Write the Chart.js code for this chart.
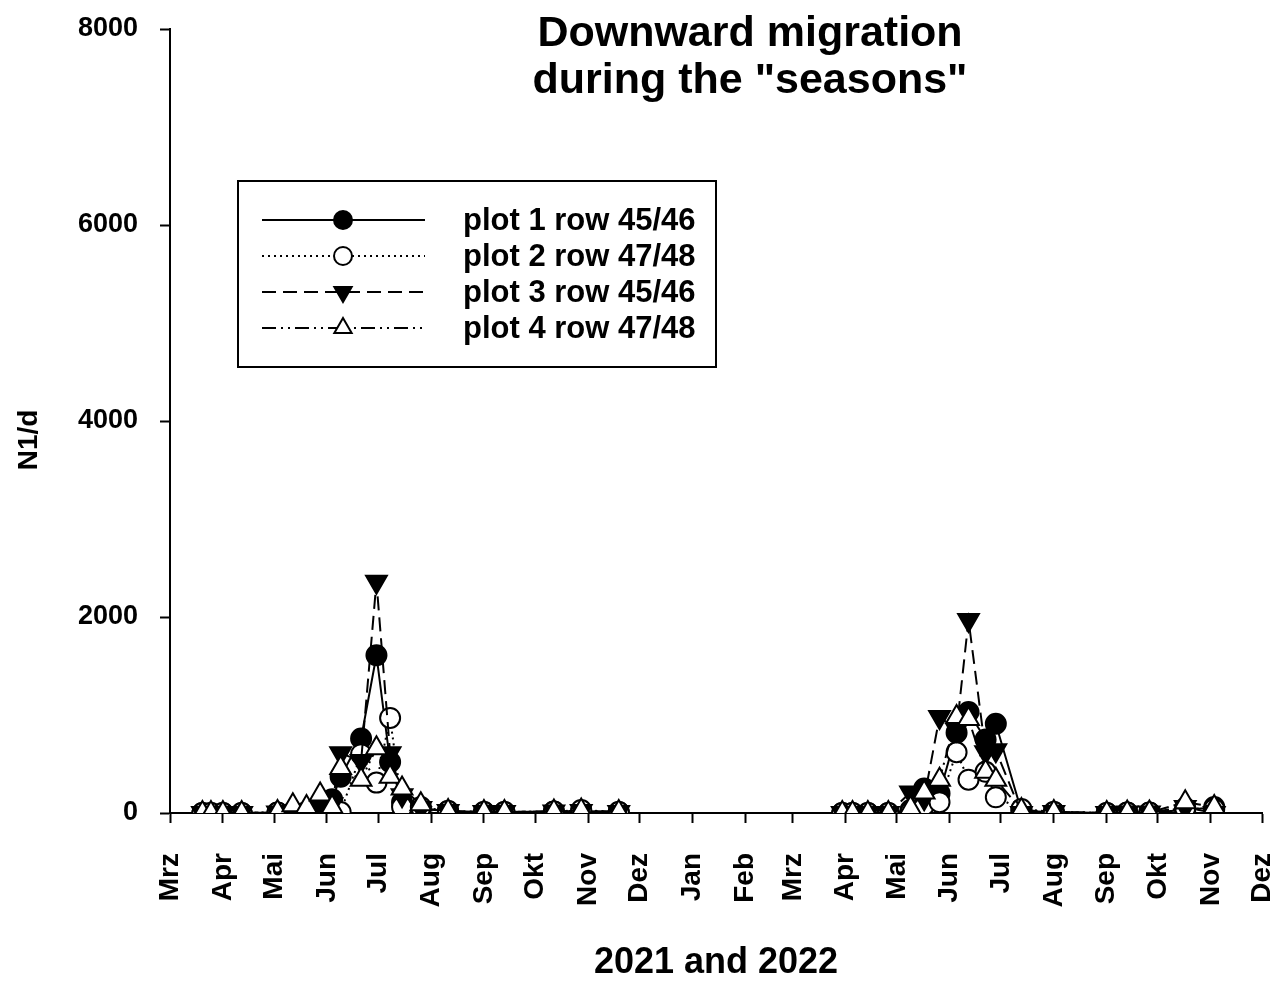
<!DOCTYPE html>
<html>
<head>
<meta charset="utf-8">
<title>Downward migration during the "seasons"</title>
<script src="https://cdn.jsdelivr.net/npm/chart.js@4.4.1/dist/chart.umd.min.js"></script>
<style>
  html, body { margin: 0; padding: 0; background: #fff; }
  #wrap { width: 1285px; height: 985px; }
</style>
</head>
<body>
<div id="wrap"><canvas id="migrationChart" width="1285" height="985"></canvas></div>
<script>
// sampling dates (2021 season, then 2022 season)
const sampleDates = [
    '2021-03-20', '2021-03-25', '2021-04-01', '2021-04-12', '2021-05-03', '2021-05-12',
    '2021-05-20', '2021-05-28', '2021-06-04', '2021-06-09', '2021-06-21', '2021-06-30',
    '2021-07-08', '2021-07-15', '2021-07-26', '2021-08-11', '2021-09-01', '2021-09-13',
    '2021-10-12', '2021-10-28', '2021-11-19',
    '2022-03-30', '2022-04-05', '2022-04-14', '2022-04-26', '2022-05-09', '2022-05-17',
    '2022-05-26', '2022-06-05', '2022-06-12', '2022-06-22', '2022-06-28', '2022-07-13',
    '2022-08-01', '2022-09-01', '2022-09-13', '2022-09-26', '2022-10-17', '2022-11-03'
];

// N1/d per plot
const plot1Values = [
    0, 0, 0, 0, 5, 10, 10, 40, 140, 370, 760, 1610, 520, 110, 40, 20, 10, 10, 15, 20, 10,
    0, 0, 0, 0, 30, 250, 200, 820, 1030, 750, 910, 20, 10, 0, 5, 5, 30, 60
];
const plot2Values = [
    0, 0, 0, 0, 5, 5, 10, 20, 30, 10, 600, 310, 970, 60, 60, 20, 10, 10, 15, 30, 10,
    0, 0, 0, 0, 10, 80, 110, 620, 340, 420, 160, 40, 10, 0, 5, 5, 50, 40
];
const plot3Values = [
    0, 0, 0, 0, 5, 10, 20, 50, 90, 610, 530, 2360, 610, 180, 50, 20, 10, 10, 15, 20, 10,
    0, 0, 0, 0, 210, 150, 980, 850, 1970, 620, 640, 0, 10, 0, 5, 5, 60, 0
];
const plot4Values = [
    0, 0, 0, 0, 10, 80, 60, 190, 60, 460, 340, 660, 370, 250, 90, 20, 10, 10, 15, 25, 10,
    0, 0, 0, 0, 50, 210, 340, 980, 960, 420, 340, 30, 10, 0, 5, 5, 110, 60
];

const seriesLabels = ['plot 1 row 45/46', 'plot 2 row 47/48', 'plot 3 row 45/46', 'plot 4 row 47/48'];
const monthNames = ['Jan', 'Feb', 'Mrz', 'Apr', 'Mai', 'Jun', 'Jul', 'Aug', 'Sep', 'Okt', 'Nov', 'Dez'];
const axisStart = '2021-03-01';
const axisEnd = '2022-12-01';
const yTicks = [0, 2000, 4000, 6000, 8000];

const FONT = '"Liberation Sans", Arial, sans-serif';

// days since the start of the axis
function dayOf(dateStr) {
    const p = dateStr.split('-').map(Number);
    const s = axisStart.split('-').map(Number);
    return (Date.UTC(p[0], p[1] - 1, p[2]) - Date.UTC(s[0], s[1] - 1, s[2])) / 86400000;
}

// one tick on the first of every month
const monthTicks = [];
(function() {
    let y = Number(axisStart.slice(0, 4));
    let m = Number(axisStart.slice(5, 7)) - 1;
    const endDay = dayOf(axisEnd);
    while (true) {
        const str = y + '-' + String(m + 1).padStart(2, '0') + '-01';
        const d = dayOf(str);
        if (d > endDay) break;
        monthTicks.push({ value: d, label: monthNames[m] });
        m++;
        if (m > 11) { m = 0; y++; }
    }
})();

// points, with a break between the two seasons
function toPoints(values) {
    const pts = [];
    for (let i = 0; i < sampleDates.length; i++) {
        const x = dayOf(sampleDates[i]);
        if (i > 0) {
            const prev = dayOf(sampleDates[i - 1]);
            if (x - prev > 60) pts.push({ x: (x + prev) / 2, y: null });
        }
        pts.push({ x: x, y: values[i] });
    }
    return pts;
}

const seriesStyles = [
    { values: plot1Values, dash: [], pointStyle: 'circle', radius: 10, rotation: 0, fill: '#000' },
    { values: plot2Values, dash: [2, 4], pointStyle: 'circle', radius: 10, rotation: 0, fill: '#fff' },
    { values: plot3Values, dash: [14, 7], pointStyle: 'triangle', radius: 12, rotation: 180, fill: '#000' },
    { values: plot4Values, dash: [14, 5, 2, 5, 2, 5], pointStyle: 'triangle', radius: 12, rotation: 0, fill: '#fff' }
];

const datasets = seriesStyles.map(function(s, i) {
    return {
        label: seriesLabels[i],
        data: toPoints(s.values),
        borderColor: '#000',
        borderWidth: 2,
        borderDash: s.dash,
        pointStyle: s.pointStyle,
        pointRadius: s.radius,
        pointRotation: s.rotation,
        pointBackgroundColor: s.fill,
        pointBorderColor: '#000',
        pointBorderWidth: 2,
        spanGaps: false,
        tension: 0,
        order: 4 - i
    };
});

// title above the plot (off-centre like the original) and the y axis title
const titlePlugin = {
    id: 'twoLineTitle',
    afterDraw: function(chart) {
        const ctx = chart.ctx;
        ctx.save();
        ctx.fillStyle = '#000';
        ctx.font = 'bold 43px ' + FONT;
        ctx.textAlign = 'center';
        ctx.textBaseline = 'middle';
        ctx.fillText('Downward migration', 750, 34);
        ctx.fillText('during the "seasons"', 750, 81);

        ctx.font = 'bold 28px ' + FONT;
        ctx.translate(29, 440);
        ctx.rotate(-Math.PI / 2);
        ctx.fillText('N1/d', 0, 0);
        ctx.restore();
    }
};

// boxed legend with line samples
const legendPlugin = {
    id: 'boxLegend',
    afterDraw: function(chart) {
        const ctx = chart.ctx;
        ctx.save();
        ctx.strokeStyle = '#000';
        ctx.lineWidth = 2;
        ctx.strokeRect(238, 181, 478, 186);
        seriesStyles.forEach(function(s, i) {
            const y = 220 + i * 36;
            ctx.setLineDash(s.dash);
            ctx.lineWidth = 2;
            ctx.beginPath();
            ctx.moveTo(262, y);
            ctx.lineTo(425, y);
            ctx.stroke();
            ctx.setLineDash([]);
            ctx.fillStyle = s.fill;
            ctx.strokeStyle = '#000';
            Chart.helpers.drawPoint(ctx, {
                pointStyle: s.pointStyle,
                radius: s.pointStyle === 'circle' ? 9 : 10,
                rotation: s.rotation,
                borderWidth: 2
            }, 343, y);
            ctx.fillStyle = '#000';
            ctx.font = 'bold 31px ' + FONT;
            ctx.textAlign = 'left';
            ctx.textBaseline = 'middle';
            ctx.fillText(seriesLabels[i], 463, y + 1);
        });
        ctx.restore();
    }
};

new Chart(document.getElementById('migrationChart'), {
    type: 'line',
    data: { datasets: datasets },
    options: {
        responsive: false,
        animation: false,
        devicePixelRatio: 1,
        layout: { padding: { top: 29, right: 23, left: 0, bottom: 0 } },
        plugins: {
            legend: { display: false },
            title: { display: false },
            tooltip: { enabled: false }
        },
        scales: {
            x: {
                type: 'linear',
                min: 0,
                max: dayOf(axisEnd),
                afterBuildTicks: function(scale) {
                    scale.ticks = monthTicks.map(function(t) { return { value: t.value }; });
                },
                afterFit: function(scale) {
                    scale.height = 172;
                    scale.paddingLeft = 0;
                    scale.paddingRight = 0;
                },
                ticks: {
                    autoSkip: false,
                    minRotation: 90,
                    maxRotation: 90,
                    padding: 30,
                    color: '#000',
                    font: { family: FONT, size: 28, weight: 'bold' },
                    callback: function(value) {
                        const t = monthTicks.find(function(m) { return m.value === value; });
                        return t ? t.label : '';
                    }
                },
                grid: { drawOnChartArea: false, drawTicks: true, tickLength: 10, tickWidth: 2, tickColor: '#000' },
                border: { display: true, color: '#000', width: 2 },
                title: {
                    display: true,
                    text: '2021 and 2022',
                    color: '#000',
                    font: { family: FONT, size: 36, weight: 'bold' },
                    padding: { top: 0, bottom: 0 }
                }
            },
            y: {
                min: 0,
                max: 8000,
                afterBuildTicks: function(scale) {
                    scale.ticks = yTicks.map(function(v) { return { value: v }; });
                },
                afterFit: function(scale) {
                    scale.width = 170;
                    scale.paddingTop = 0;
                    scale.paddingBottom = 0;
                },
                ticks: {
                    padding: 22,
                    color: '#000',
                    font: { family: FONT, size: 27, weight: 'bold' },
                    callback: function(value) { return String(value); }
                },
                grid: { drawOnChartArea: false, drawTicks: true, tickLength: 10, tickWidth: 2, tickColor: '#000' },
                border: { display: true, color: '#000', width: 2 }
            }
        }
    },
    plugins: [titlePlugin, legendPlugin]
});
</script>
</body>
</html>
